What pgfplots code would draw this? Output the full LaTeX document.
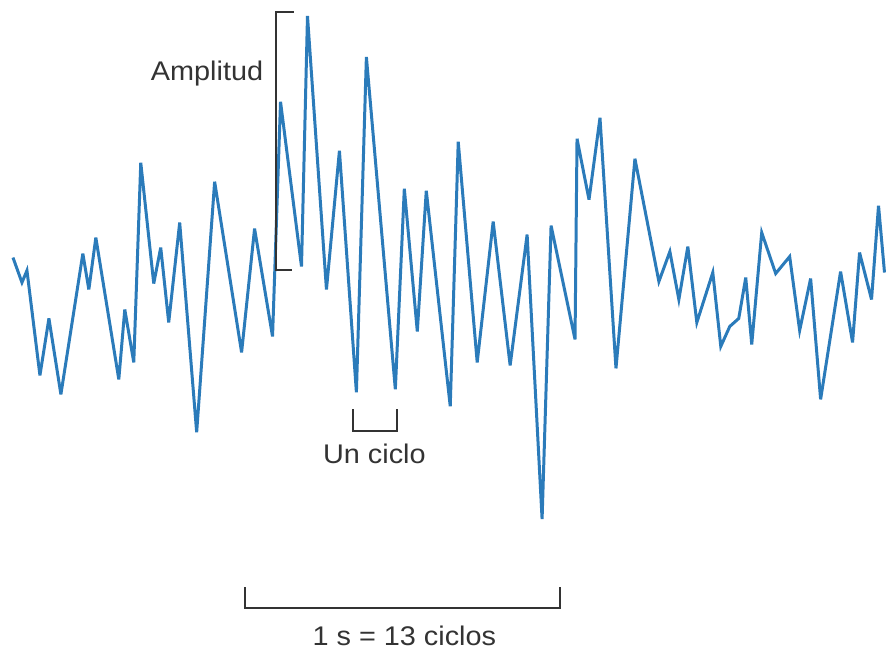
\documentclass[border=0pt]{standalone}
\usepackage{pgfplots}
\pgfplotsset{compat=1.18}
\usepackage{graphicx}
\usepackage{fontspec}
\setmainfont{Liberation Sans}
\definecolor{wave}{HTML}{2B7BBA}
\definecolor{ink}{HTML}{333333}
\newcommand{\lbl}[1]{\scalebox{1.07}[1]{#1}}
\begin{document}
\begin{tikzpicture}
\begin{axis}[
  width=443bp, height=325.5bp, scale only axis,
  xmin=0, xmax=886, ymin=0, ymax=651, y dir=reverse,
  hide axis, clip=false,
]
\addplot[wave, line width=1.5bp, line join=miter, miter limit=6] coordinates {
(13,258) (22,283) (27,271) (40,376) (49,319) (61,395) (83,254) (89,290)
(96,238) (119,380) (125,310) (134,363) (141,163) (154,284) (161,248) (169,323)
(180,223) (197,433) (215,182) (242,353) (255,229) (273,337) (281,102) (302,267)
(308,16) (327,290) (340,151) (357,393) (367,57) (396,390) (405,189) (418,332)
(427,191) (451,407) (459,142) (478,363) (494,222) (511,366) (528,235) (543,520)
(552,226) (576,340) (578,139) (590,200) (601,118) (617,369) (636,159) (660,282)
(671,252) (680,300) (689,247) (698,323) (714,273) (722,347) (731,327) (740,319)
(747,278) (753,345) (763,233) (777,274) (791,257) (801,331) (812,279) (822,400)
(842,272) (854,343) (861,253) (873,300) (880,206) (886,273)
};
% amplitude bracket
\draw[ink, line width=1bp] (axis cs:294,12) -- (axis cs:276,12) -- (axis cs:276,270) -- (axis cs:292,270);
\node[anchor=east, text=ink, font=\fontsize{13.5bp}{16bp}\selectfont, inner sep=0pt] at (axis cs:264,74) {\lbl{Amplitud}};
% one cycle bracket
\draw[ink, line width=1bp] (axis cs:354,410) -- (axis cs:354,432) -- (axis cs:398,432) -- (axis cs:398,410);
\node[text=ink, font=\fontsize{13.5bp}{16bp}\selectfont, inner sep=0pt] at (axis cs:375,455) {\lbl{Un ciclo}};
% one second bracket
\draw[ink, line width=1bp] (axis cs:245,588) -- (axis cs:245,609) -- (axis cs:561,609) -- (axis cs:561,588);
\node[text=ink, font=\fontsize{13.5bp}{16bp}\selectfont, inner sep=0pt] at (axis cs:405,637) {\lbl{1 s = 13 ciclos}};
\path (axis cs:0,0) rectangle (axis cs:886,651);
\end{axis}
\end{tikzpicture}
\end{document}
